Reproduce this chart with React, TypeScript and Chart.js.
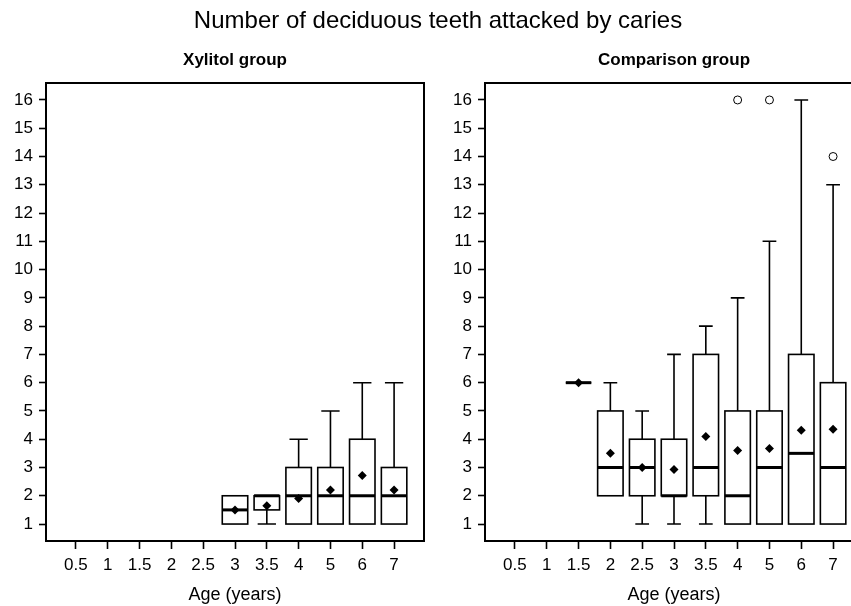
import React, { useEffect, useRef } from "react";
import { Chart, registerables } from "chart.js";

Chart.register(...registerables);

// ---- data ----
const ageLabels = ["0.5", "1", "1.5", "2", "2.5", "3", "3.5", "4", "5", "6", "7"];
const yTickValues = [1, 2, 3, 4, 5, 6, 7, 8, 9, 10, 11, 12, 13, 14, 15, 16];

// Xylitol group
const xyLow = [null, null, null, null, null, 1, 1, 1, 1, 1, 1];
const xyQ1 = [null, null, null, null, null, 1, 1.5, 1, 1, 1, 1];
const xyMedian = [null, null, null, null, null, 1.5, 2, 2, 2, 2, 2];
const xyQ3 = [null, null, null, null, null, 2, 2, 3, 3, 4, 3];
const xyHigh = [null, null, null, null, null, 2, 2, 4, 5, 6, 6];
const xyMean = [null, null, null, null, null, 1.5, 1.65, 1.9, 2.2, 2.72, 2.2];
const xyOutlierAge: string[] = [];
const xyOutlierValue: number[] = [];

// Comparison group
const cmpLow = [null, null, 6, 2, 1, 1, 1, 1, 1, 1, 1];
const cmpQ1 = [null, null, 6, 2, 2, 2, 2, 1, 1, 1, 1];
const cmpMedian = [null, null, 6, 3, 3, 2, 3, 2, 3, 3.5, 3];
const cmpQ3 = [null, null, 6, 5, 4, 4, 7, 5, 5, 7, 6];
const cmpHigh = [null, null, 6, 6, 5, 7, 8, 9, 11, 16, 13];
const cmpMean = [null, null, 6, 3.5, 3.0, 2.93, 4.1, 3.6, 3.67, 4.32, 4.35];
const cmpOutlierAge = ["4", "5", "7"];
const cmpOutlierValue = [16, 16, 14];

const FONT = "'Liberation Sans', Arial, Helvetica, sans-serif";

type BoxData = {
  low: (number | null)[];
  q1: (number | null)[];
  med: (number | null)[];
  q3: (number | null)[];
  high: (number | null)[];
  mean: (number | null)[];
  outAge: string[];
  outVal: number[];
};

function makeConfig(
  title: string,
  d: BoxData,
  yAxisWidth: number,
  padRight: number,
  capRatio: number,
  mainTitle: boolean
): any {
  const boxPlugin = {
    id: "boxes",
    beforeDatasetsDraw(chart: any) {
      const { ctx, scales } = chart;
      const xs = scales.x;
      const ys = scales.y;
      const half = Math.abs(xs.getPixelForValue(1.4) - xs.getPixelForValue(1));
      const cap = half * capRatio;
      ctx.save();
      ctx.strokeStyle = "#000";
      ctx.lineCap = "butt";
      for (let i = 0; i < ageLabels.length; i++) {
        const q1 = d.q1[i];
        if (q1 == null) continue;
        const q3 = d.q3[i] as number;
        const med = d.med[i] as number;
        const lo = d.low[i] as number;
        const hi = d.high[i] as number;
        const cx = xs.getPixelForValue(i + 1);
        const y1 = ys.getPixelForValue(q1);
        const y3 = ys.getPixelForValue(q3);
        // whiskers
        ctx.lineWidth = 1.6;
        if (hi > q3) {
          const yh = ys.getPixelForValue(hi);
          ctx.beginPath();
          ctx.moveTo(cx, y3);
          ctx.lineTo(cx, yh);
          ctx.moveTo(cx - cap, yh);
          ctx.lineTo(cx + cap, yh);
          ctx.stroke();
        }
        if (lo < q1) {
          const yl = ys.getPixelForValue(lo);
          ctx.beginPath();
          ctx.moveTo(cx, y1);
          ctx.lineTo(cx, yl);
          ctx.moveTo(cx - cap, yl);
          ctx.lineTo(cx + cap, yl);
          ctx.stroke();
        }
        // box
        ctx.lineWidth = 1.6;
        ctx.fillStyle = "#fff";
        ctx.fillRect(cx - half, y3, 2 * half, y1 - y3);
        ctx.strokeRect(cx - half, y3, 2 * half, y1 - y3);
        // median
        const ym = ys.getPixelForValue(med);
        ctx.lineWidth = 3;
        ctx.beginPath();
        ctx.moveTo(cx - half, ym);
        ctx.lineTo(cx + half, ym);
        ctx.stroke();
      }
      ctx.restore();
    },
    afterDraw(chart: any) {
      const { ctx, chartArea } = chart;
      ctx.save();
      ctx.strokeStyle = "#000";
      ctx.lineWidth = 2;
      ctx.strokeRect(chartArea.left, chartArea.top, chartArea.right - chartArea.left, chartArea.bottom - chartArea.top);
      if (mainTitle) {
        ctx.fillStyle = "#000";
        ctx.font = `24px ${FONT}`;
        ctx.textAlign = "center";
        ctx.textBaseline = "middle";
        ctx.fillText("Number of deciduous teeth attacked by caries", 438, 21);
      }
      ctx.restore();
    },
  };

  const meanData = d.mean
    .map((m, i) => (m == null ? null : { x: i + 1, y: m }))
    .filter((p) => p != null);
  const outData = d.outAge.map((a, k) => ({ x: ageLabels.indexOf(a) + 1, y: d.outVal[k] }));

  return {
    type: "scatter",
    data: {
      datasets: [
        {
          label: "mean",
          data: meanData,
          pointStyle: "rectRot",
          pointRadius: 4.5,
          backgroundColor: "#000",
          borderColor: "#000",
          borderWidth: 0,
        },
        {
          label: "outliers",
          data: outData,
          pointStyle: "circle",
          pointRadius: 4,
          backgroundColor: "rgba(255,255,255,0)",
          borderColor: "#000",
          borderWidth: 1,
        },
      ],
    },
    options: {
      animation: false,
      responsive: false,
      maintainAspectRatio: false,
      devicePixelRatio: 1,
      layout: { padding: { left: 0, right: padRight, top: 0, bottom: 0 } },
      plugins: {
        legend: { display: false },
        tooltip: { enabled: false },
        title: {
          display: true,
          text: title,
          fullSize: false,
          color: "#000",
          font: { family: FONT, size: 17, weight: "bold" },
          padding: { top: 49.8, bottom: 12.8 },
        },
      },
      scales: {
        x: {
          type: "linear",
          min: 0.06,
          max: 11.94,
          afterBuildTicks: (s: any) => {
            s.ticks = ageLabels.map((_, i) => ({ value: i + 1 }));
          },
          afterFit: (s: any) => {
            s.height = 65;
          },
          border: { display: false },
          grid: {
            display: true,
            drawOnChartArea: false,
            drawTicks: true,
            tickLength: 8,
            tickWidth: 1.6,
            tickColor: "#000",
          },
          ticks: {
            autoSkip: false,
            maxRotation: 0,
            padding: 6,
            color: "#000",
            font: { family: FONT, size: 17 },
            callback: (v: any) => ageLabels[Math.round(v) - 1] ?? "",
          },
          title: {
            display: true,
            text: "Age (years)",
            color: "#000",
            font: { family: FONT, size: 18 },
            padding: { top: 0, bottom: 0 },
          },
        },
        y: {
          type: "linear",
          min: 0.4,
          max: 16.6,
          afterBuildTicks: (s: any) => {
            s.ticks = yTickValues.map((v) => ({ value: v }));
          },
          afterFit: (s: any) => {
            s.width = yAxisWidth;
          },
          border: { display: false },
          grid: {
            display: true,
            drawOnChartArea: false,
            drawTicks: true,
            tickLength: 7,
            tickWidth: 1.6,
            tickColor: "#000",
          },
          ticks: {
            autoSkip: false,
            padding: 6,
            color: "#000",
            font: { family: FONT, size: 17 },
          },
        },
      },
    },
    plugins: [boxPlugin],
  };
}

export default function App() {
  const leftRef = useRef<HTMLCanvasElement | null>(null);
  const rightRef = useRef<HTMLCanvasElement | null>(null);

  useEffect(() => {
    const left = new Chart(
      leftRef.current as HTMLCanvasElement,
      makeConfig(
        "Xylitol group",
        {
          low: xyLow,
          q1: xyQ1,
          med: xyMedian,
          q3: xyQ3,
          high: xyHigh,
          mean: xyMean,
          outAge: xyOutlierAge,
          outVal: xyOutlierValue,
        },
        46,
        851 - 424,
        0.72,
        true
      )
    );
    const right = new Chart(
      rightRef.current as HTMLCanvasElement,
      makeConfig(
        "Comparison group",
        {
          low: cmpLow,
          q1: cmpQ1,
          med: cmpMedian,
          q3: cmpQ3,
          high: cmpHigh,
          mean: cmpMean,
          outAge: cmpOutlierAge,
          outVal: cmpOutlierValue,
        },
        47,
        438 - 425,
        0.54,
        false
      )
    );
    return () => {
      left.destroy();
      right.destroy();
    };
  }, []);

  return (
    <div
      style={{
        position: "fixed",
        left: 0,
        top: 0,
        width: 851,
        height: 606,
        overflow: "hidden",
        background: "#fff",
      }}
    >
      <canvas
        ref={leftRef}
        width={851}
        height={606}
        style={{ position: "absolute", left: 0, top: 0, zIndex: 1 }}
      />
      <canvas
        ref={rightRef}
        width={438}
        height={606}
        style={{ position: "absolute", left: 438, top: 0, zIndex: 2 }}
      />
    </div>
  );
}
